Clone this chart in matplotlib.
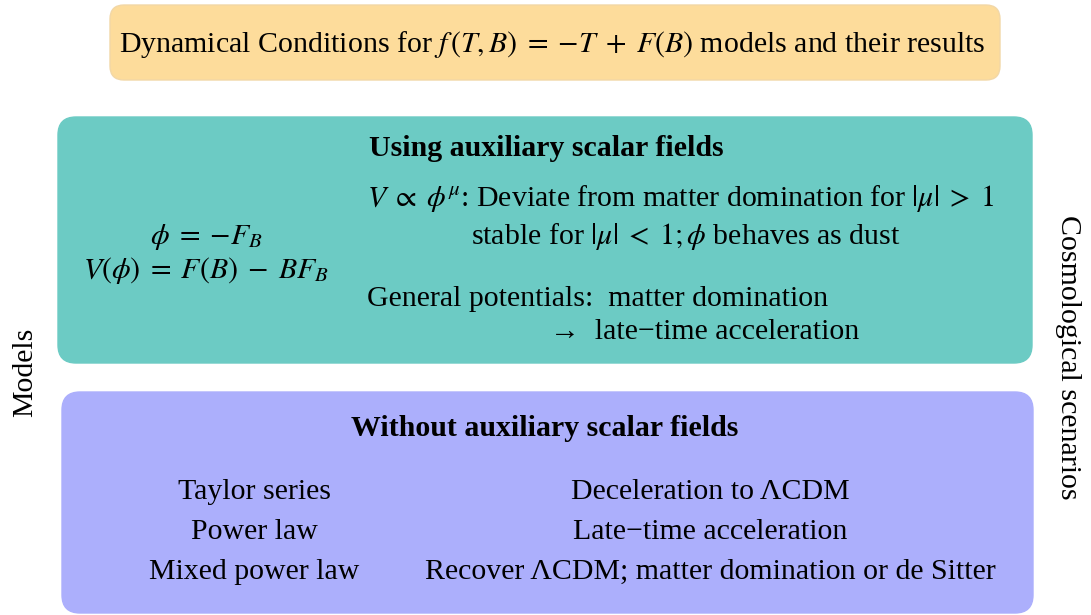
import matplotlib
matplotlib.use("Agg")
import matplotlib.pyplot as plt
from matplotlib.patches import FancyBboxPatch

plt.rcParams['font.family'] = ['Liberation Serif', 'DejaVu Serif']
plt.rcParams['mathtext.fontset'] = 'stix'

# ---- content ----
title = r"Dynamical Conditions for $f\,(T, B)\;=\;{-}T\;+\;F(B)$ models and their results"
aux_heading = "Using auxiliary scalar fields"
aux_defs = [r"$\phi\;=\;{-}F_B$", r"$V(\phi)\;=\;F(B)\;-\;BF_B$"]
aux_line1 = r"$V\;\propto\;\phi^{\mu}$: Deviate from matter domination for $|\mu|\;>\;1$"
aux_line2 = r"stable for $|\mu|\;<\;1; \phi$ behaves as dust"
aux_line3 = "General potentials:  matter domination"
aux_line4 = "→  late−time acceleration"
noaux_heading = "Without auxiliary scalar fields"
noaux_models = ["Taylor series", "Power law", "Mixed power law"]
noaux_results = ["Deceleration to ΛCDM", "Late−time acceleration",
                 "Recover ΛCDM; matter domination or de Sitter"]
left_label = "Models"
right_label = "Cosmological scenarios"

col_orange = "#FDDC9B"
col_teal = "#6CCBC4"
col_purple = "#ACAFFC"

W, H = 1091, 615
fig = plt.figure(figsize=(W / 100, H / 100), dpi=100)
ax = fig.add_axes([0, 0, 1, 1])
ax.set_xlim(0, W)
ax.set_ylim(H, 0)
ax.axis('off')


def box(x0, y0, x1, y1, color, r, ec=None):
    p = FancyBboxPatch((x0 + r, y0 + r), (x1 - x0) - 2 * r, (y1 - y0) - 2 * r,
                       boxstyle=f"round,pad={r}", fc=color,
                       ec=ec if ec else color, lw=1)
    ax.add_patch(p)


box(110, 5, 1000, 80, col_orange, 14, ec="#F2D7A6")
box(58, 117, 1032, 363, col_teal, 18)
box(62, 392, 1033, 613, col_purple, 18)

fs = 21.5
ax.text(552, 44, title, ha='center', va='center', fontsize=fs)

ax.text(546, 148, aux_heading, ha='center', va='center', fontsize=fs,
        fontweight='bold')
ax.text(206, 237, aux_defs[0], ha='center', va='center', fontsize=fs)
ax.text(206, 270, aux_defs[1], ha='center', va='center', fontsize=fs)
ax.text(367, 199, aux_line1, ha='left', va='center', fontsize=fs)
ax.text(471, 236, aux_line2, ha='left', va='center', fontsize=fs)
ax.text(367, 299, aux_line3, ha='left', va='center', fontsize=fs)
ax.text(550, 332, aux_line4, ha='left', va='center', fontsize=fs)

ax.text(545, 428, noaux_heading, ha='center', va='center', fontsize=fs,
        fontweight='bold')
ys = [492, 532, 572]
for y, m, r in zip(ys, noaux_models, noaux_results):
    ax.text(254, y, m, ha='center', va='center', fontsize=fs)
    ax.text(710, y, r, ha='center', va='center', fontsize=fs)

ax.text(25, 372, left_label, ha='center', va='center', fontsize=fs,
        rotation=90)
ax.text(1068, 357, right_label, ha='center', va='center', fontsize=fs,
        rotation=-90)

fig.savefig("out.png", dpi=100)
